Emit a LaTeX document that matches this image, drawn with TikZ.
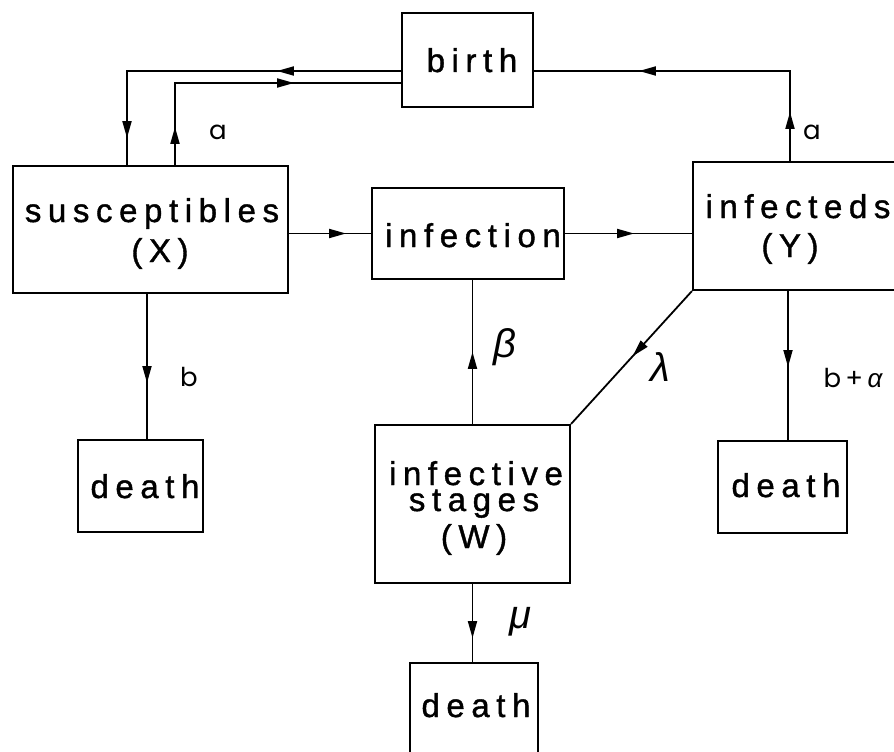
\documentclass[tikz,border=0pt]{standalone}
\usepackage{fontspec}
\newfontfamily\boxfont{Liberation Sans}[LetterSpace=20,FakeBold=1.2]
\newfontfamily\labfont{Poppins}
\newfontfamily\grkfont{Liberation Sans}
\usetikzlibrary{arrows.meta,decorations.markings}
\newcommand\bxf{\boxfont\fontsize{33}{35}\selectfont}
\newcommand\lbf{\labfont\fontsize{26}{28}\selectfont}
\newcommand\gkf{\grkfont\itshape\fontsize{40}{42}\selectfont}
\tikzset{
  box/.style={draw, line width=2.2pt, inner sep=0pt, anchor=center},
  txt/.style={inner sep=0pt, anchor=base, font=\bxf},
  lab/.style={inner sep=0pt, anchor=center, font=\lbf},
  glab/.style={inner sep=0pt, anchor=center, font=\gkf},
  flow/.style={line width=1.8pt},
  tipat/.style={postaction={decorate}, decoration={markings,
     mark=at position #1 with {\arrow{Triangle[length=17pt,width=9pt]}}}},
  tipsat/.style 2 args={postaction={decorate}, decoration={markings,
     mark=at position #1 with {\arrow{Triangle[length=17pt,width=9pt]}},
     mark=at position #2 with {\arrow{Triangle[length=17pt,width=9pt]}}}}
}
\begin{document}
\begin{tikzpicture}[x=1pt,y=-1pt]
\useasboundingbox (0,0) rectangle (894,752);
\clip (0,0) rectangle (894,752);
% boxes
\node[box, minimum width=131pt, minimum height=94pt]  (birth) at (467.5,60) {};
\node[box, minimum width=275pt, minimum height=127pt] (sus)   at (150.5,229.5) {};
\node[box, minimum width=192pt, minimum height=91pt]  (inf)   at (468,233.5) {};
\node[box, minimum width=212pt, minimum height=128pt] (infd)  at (799,226) {};
\node[box, minimum width=195pt, minimum height=158pt] (W)     at (472.5,504) {};
\node[box, minimum width=125pt, minimum height=92pt]  (d1)    at (140.5,486) {};
\node[box, minimum width=129pt, minimum height=92pt]  (d2)    at (782.5,487) {};
\node[box, minimum width=128pt, minimum height=97pt]  (d3)    at (474,711.5) {};
% texts
\node[txt] (tbirth) at (472,72) {birth};
\node[txt] (tsus)   at (152,222) {susceptibles};
\node[txt] (tx)     at (160,262) {(X)};
\node[txt] (tinf)   at (473,247) {infection};
\node[txt] (tinfd)  at (798,218) {infecteds};
\node[txt] (ty)     at (790,257) {(Y)};
\node[txt] (tw1)    at (476,485) {infective};
\node[txt] (tw2)    at (474,511) {stages};
\node[txt] (tw3)    at (474,548) {(W)};
\node[txt] (td1)    at (145,498) {death};
\node[txt] (td2)    at (786,497) {death};
\node[txt] (td3)    at (476,717) {death};
% junction coordinates
\coordinate (j1) at (127,71);
\coordinate (j2) at (175,83);
\coordinate (j3) at (790,71);
\coordinate (k1) at (147,293);
\coordinate (k2) at (788,290);
% connectors
\draw[flow, tipsat={124pt}{341pt}] (j1 -| birth.west) -- (j1) -- (j1 |- sus.north);
\draw[flow, tipsat={38pt}{201pt}] (j2 |- sus.north) -- (j2) -- (j2 -| birth.west);
\draw[flow, tipsat={49pt}{241pt}] (j3 |- infd.north) -- (j3) -- (j3 -| birth.east);
\draw[flow, tipat={57pt}] (inf.west -| sus.east) -- (inf.west);
\draw[flow, tipat={69pt}] (inf.east) -- (inf.east -| infd.west);
\draw[flow, tipat={72pt}] (W.north) -- (W.north |- inf.south);
\draw[flow, tipat={88pt}] (infd.south west) -- (W.north east);
\draw[flow, tipat={90pt}] (k1) -- (k1 |- d1.north);
\draw[flow, tipat={77pt}] (k2) -- (k2 |- d2.north);
\draw[flow, tipat={54pt}] (W.south) -- (W.south |- d3.north);
% labels
\node[lab] (la1) at (218,132) {a};
\node[lab] (la2) at (812,132) {a};
\node[lab] (lb1) at (189,377) {b};
\node[lab] (lb2) at (853,378) {b\,+\,{\grkfont\itshape α}};
\node[glab] (lbeta) at (505,347) {β};
\node[glab] (llam) at (660,367) {λ};
\node[glab] (lmu) at (520,622) {μ};
\end{tikzpicture}
\end{document}
